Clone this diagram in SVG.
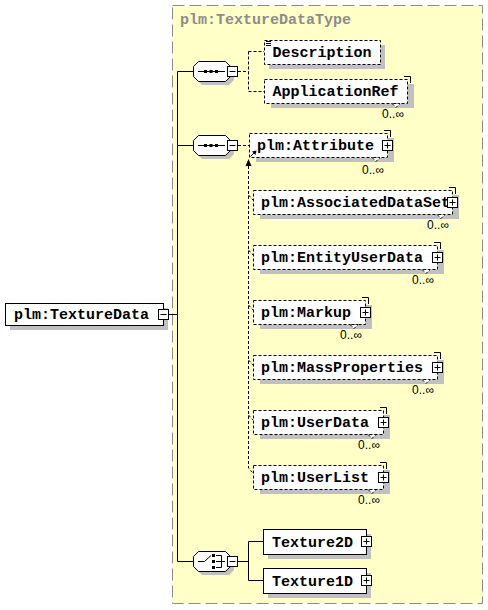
<svg xmlns="http://www.w3.org/2000/svg" width="488" height="610" viewBox="0 0 488 610">
<style>
.nm{font-family:"Liberation Mono","Courier New",monospace;font-weight:bold;font-size:15px;fill:#000}
.ttl{font-family:"Liberation Mono","Courier New",monospace;font-weight:bold;font-size:15px;fill:#8c8c8c}
.occ{font-family:"Liberation Sans",Arial,sans-serif;font-size:12px;fill:#000;text-anchor:end}
.box{fill:#fff;stroke:#000;stroke-width:1}
.opt{fill:#fff;stroke:#000;stroke-width:1;stroke-dasharray:3,2}
.sh{fill:#c0c0c0}
.ln{fill:none;stroke:#000;stroke-width:1}
.dl{fill:none;stroke:#000;stroke-width:1;stroke-dasharray:3,2}
.pm{fill:#fff;stroke:#000;stroke-width:1}
</style>
<defs>
<g id="plus"><rect class="pm" x="0.5" y="0.5" width="10" height="10"/><path class="ln" d="M2.5 5.5H8.5M5.5 2.5V8.5"/></g>
<g id="minus"><rect class="pm" x="0.5" y="0.5" width="10" height="10"/><path class="ln" d="M2.5 5.5H8.5"/></g>
<polygon id="oct" points="5,0 32,0 37,5 37,15 32,20 5,20 0,15 0,5"/>
</defs>

<g id="type-area">
<rect x="172.5" y="5.5" width="310" height="598" fill="#ffffc8" stroke="#8c8c8c" stroke-width="1" stroke-dasharray="12,5"/>
<text class="ttl" x="180" y="24">plm:TextureDataType</text>
</g>

<g id="connectors">
<path class="ln" d="M168 314.5H177.5M177.5 71.5V561.5M177.5 71.5H193M177.5 145.5H193M177.5 561.5H193"/>
<path class="dl" d="M238 71.5H248.5M248.5 51.5V91.5M248.5 51.5H264M248.5 91.5H264"/>
<path class="dl" d="M238 145.5H249"/>
<path class="dl" d="M248.5 166V468L253 473M248.5 195L253 200M248.5 250L253 255M248.5 305L253 310M248.5 360L253 365M248.5 415L253 420"/>
<polygon points="248.5,159 245.5,166 251.5,166" fill="#000"/>
<path class="ln" d="M238 561.5H248.5M248.5 541.5V580.5M248.5 541.5H263M248.5 580.5H263"/>
</g>

<g id="TextureData">
<rect class="sh" x="10" y="308" width="158" height="22"/>
<rect class="box" x="5.5" y="303.5" width="158" height="22"/>
<text class="nm" x="14" y="319">plm:TextureData</text>
<use href="#minus" x="158" y="309"/>
</g>

<g id="sequence1">
<use href="#oct" x="197" y="65" class="sh"/>
<use href="#oct" x="193.5" y="61.5" class="box"/>
<path class="ln" d="M198 71.5H225"/>
<rect x="204" y="70" width="3" height="3" fill="#000"/>
<rect x="209.5" y="70" width="3" height="3" fill="#000"/>
<rect x="215" y="70" width="3" height="3" fill="#000"/>
<use href="#minus" x="227" y="66"/>
</g>

<g id="Description">
<rect class="sh" x="269" y="45" width="116" height="24"/>
<rect class="opt" x="264.5" y="40.5" width="116" height="24"/>
<path class="ln" d="M266 41.5H271M266 43.5H271M266 45.5H271"/>
<text class="nm" x="272.5" y="57">Description</text>
</g>

<g id="ApplicationRef">
<rect class="sh" x="271" y="84" width="143" height="24"/>
<path class="ln" d="M404 76.5H410.5V83"/>
<rect class="opt" x="264.5" y="79.5" width="143" height="24"/>
<polygon class="opt" points="392,103.5 396,107.5 400,103.5"/>
<text class="nm" x="272.5" y="96">ApplicationRef</text>
<text class="occ" x="404" y="118">0..∞</text>
</g>

<g id="sequence2">
<use href="#oct" x="197" y="139" class="sh"/>
<use href="#oct" x="193.5" y="135.5" class="box"/>
<path class="ln" d="M198 145.5H225"/>
<rect x="204" y="144" width="3" height="3" fill="#000"/>
<rect x="209.5" y="144" width="3" height="3" fill="#000"/>
<rect x="215" y="144" width="3" height="3" fill="#000"/>
<use href="#minus" x="227" y="140"/>
</g>

<g id="Attribute">
<rect class="sh" x="256" y="138" width="138" height="24"/>
<path class="ln" d="M384 130.5H390.5V137"/>
<rect class="opt" x="249.5" y="133.5" width="138" height="24"/>
<polygon class="opt" points="372,157.5 376,161.5 380,157.5"/>
<text class="nm" x="257" y="150">plm:Attribute</text>
<use href="#plus" x="382" y="140"/>
<path class="ln" d="M250.5 156.5L255.5 151.5"/>
<polygon points="256.5,150.5 252,151.5 255.5,155" fill="#000"/>
<text class="occ" x="384" y="174">0..∞</text>
</g>

<g id="AssociatedDataSet">
<rect class="sh" x="260" y="195" width="199" height="24"/>
<path class="ln" d="M449 187.5H455.5V194"/>
<rect class="opt" x="253.5" y="190.5" width="199" height="24"/>
<polygon class="opt" points="437,214.5 441,218.5 445,214.5"/>
<text class="nm" x="261" y="207">plm:AssociatedDataSet</text>
<use href="#plus" x="447" y="197"/>
<text class="occ" x="449" y="229">0..∞</text>
</g>

<g id="EntityUserData">
<rect class="sh" x="260" y="250" width="184" height="24"/>
<path class="ln" d="M434 242.5H440.5V249"/>
<rect class="opt" x="253.5" y="245.5" width="184" height="24"/>
<polygon class="opt" points="422,269.5 426,273.5 430,269.5"/>
<text class="nm" x="261" y="262">plm:EntityUserData</text>
<use href="#plus" x="432" y="252"/>
<text class="occ" x="434" y="284">0..∞</text>
</g>

<g id="Markup">
<rect class="sh" x="260" y="305" width="112" height="24"/>
<path class="ln" d="M362 297.5H368.5V304"/>
<rect class="opt" x="253.5" y="300.5" width="112" height="24"/>
<polygon class="opt" points="350,324.5 354,328.5 358,324.5"/>
<text class="nm" x="261" y="317">plm:Markup</text>
<use href="#plus" x="360" y="307"/>
<text class="occ" x="362" y="339">0..∞</text>
</g>

<g id="MassProperties">
<rect class="sh" x="260" y="360" width="184" height="24"/>
<path class="ln" d="M434 352.5H440.5V359"/>
<rect class="opt" x="253.5" y="355.5" width="184" height="24"/>
<polygon class="opt" points="422,379.5 426,383.5 430,379.5"/>
<text class="nm" x="261" y="372">plm:MassProperties</text>
<use href="#plus" x="432" y="362"/>
<text class="occ" x="434" y="394">0..∞</text>
</g>

<g id="UserData">
<rect class="sh" x="260" y="415" width="130" height="24"/>
<path class="ln" d="M380 407.5H386.5V414"/>
<rect class="opt" x="253.5" y="410.5" width="130" height="24"/>
<polygon class="opt" points="368,434.5 372,438.5 376,434.5"/>
<text class="nm" x="261" y="427">plm:UserData</text>
<use href="#plus" x="378" y="417"/>
<text class="occ" x="380" y="449">0..∞</text>
</g>

<g id="UserList">
<rect class="sh" x="260" y="470" width="130" height="24"/>
<path class="ln" d="M380 462.5H386.5V469"/>
<rect class="opt" x="253.5" y="465.5" width="130" height="24"/>
<polygon class="opt" points="368,489.5 372,493.5 376,489.5"/>
<text class="nm" x="261" y="482">plm:UserList</text>
<use href="#plus" x="378" y="472"/>
<text class="occ" x="380" y="504">0..∞</text>
</g>

<g id="choice">
<use href="#oct" x="197" y="555" class="sh"/>
<use href="#oct" x="193.5" y="551.5" class="box"/>
<path class="ln" d="M198 561.5H204.5L211 555.5"/>
<rect x="212" y="554" width="3" height="3" fill="#000"/>
<rect x="212" y="560" width="3" height="3" fill="#000"/>
<rect x="212" y="566" width="3" height="3" fill="#000"/>
<path class="ln" d="M216 555.5H221.5V567.5H216M216 561.5H225"/>
<use href="#minus" x="227" y="556"/>
</g>

<g id="Texture2D">
<rect class="sh" x="268" y="534" width="103" height="25"/>
<rect class="box" x="263.5" y="529.5" width="103" height="25"/>
<text class="nm" x="272" y="547">Texture2D</text>
<use href="#plus" x="361" y="536"/>
</g>

<g id="Texture1D">
<rect class="sh" x="268" y="573" width="103" height="25"/>
<rect class="box" x="263.5" y="568.5" width="103" height="25"/>
<text class="nm" x="272" y="586">Texture1D</text>
<use href="#plus" x="361" y="575"/>
</g>
</svg>
